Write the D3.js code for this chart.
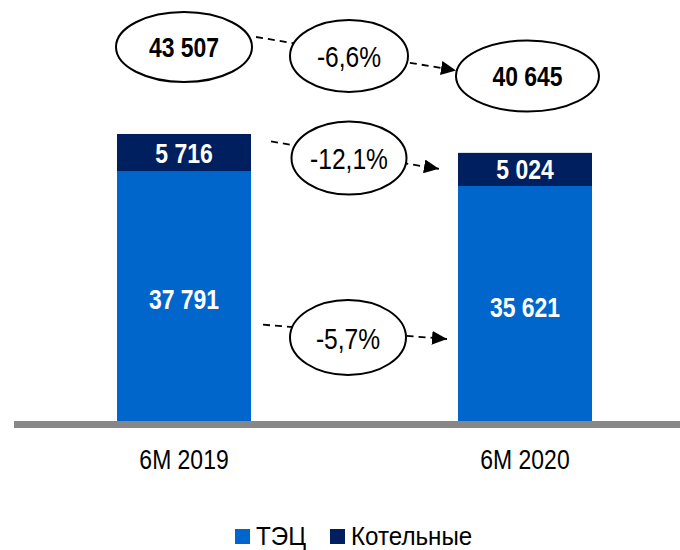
<!DOCTYPE html>
<html>
<head>
<meta charset="utf-8">
<script src="https://cdn.jsdelivr.net/npm/d3@7"></script>
<style>
  html, body { margin: 0; padding: 0; background: #fff; }
  svg { display: block; }
  text { font-family: "Liberation Sans Narrow", "Arial Narrow", "Liberation Sans", Arial, sans-serif; }
</style>
</head>
<body>
<svg id="chart" width="680" height="550"></svg>
<script>
// ---- data ----
const categories = ["6M 2019", "6M 2020"];
const seriesNames = ["ТЭЦ", "Котельные"];
const tecValues = [37791, 35621];
const kotValues = [5716, 5024];
const totalValues = [43507, 40645];
const changeLabels = ["-5,7%", "-12,1%", "-6,6%"]; // ТЭЦ, Котельные, total

const colors = { "ТЭЦ": "#0066CC", "Котельные": "#001F5F" };
const NARROW = 0.82; // horizontal condensing (Arial Narrow look)

const svg = d3.select("#chart");
const fmt = d3.formatLocale({ decimal: ",", thousands: " ", grouping: [3], currency: ["", ""] }).format(",d");

const x = d3.scaleBand().domain(categories).range([117, 592]).paddingInner(0.607).paddingOuter(0);
const y = d3.scaleLinear().domain([0, 50000]).range([421, 91.15]);

// helper: condensed text
function ntext(parent, px, py, str, opts) {
  const g = parent.append("g").attr("transform", `translate(${px},${py}) scale(${opts.sx || NARROW},1)`);
  return g.append("text").attr("x", 0).attr("y", 0)
    .attr("text-anchor", opts.anchor || "middle")
    .attr("font-size", opts.size)
    .attr("font-weight", opts.bold ? "bold" : "normal")
    .attr("fill", opts.fill || "#000")
    .text(str);
}

// arrowhead marker
svg.append("defs").append("marker")
  .attr("id", "arrow").attr("markerUnits", "userSpaceOnUse")
  .attr("viewBox", "0 -7 15 14").attr("refX", 15).attr("refY", 0)
  .attr("markerWidth", 15).attr("markerHeight", 14).attr("orient", "auto")
  .append("path").attr("d", "M0,-7L15,0L0,7Z").attr("fill", "#000");

// stacked bars
const stackData = categories.map((c, i) => ({ cat: c, "ТЭЦ": tecValues[i], "Котельные": kotValues[i] }));
const stack = d3.stack().keys(seriesNames)(stackData);

svg.append("g").selectAll("g").data(stack).join("g")
  .attr("fill", d => colors[d.key])
  .selectAll("rect").data(d => d).join("rect")
  .attr("x", d => x(d.data.cat))
  .attr("width", x.bandwidth())
  .attr("y", d => y(d[1]))
  .attr("height", d => y(d[0]) - y(d[1]));

// bar labels
const labelG = svg.append("g");
stack.forEach(s => {
  s.forEach(d => {
    ntext(labelG, x(d.data.cat) + x.bandwidth() / 2,
      (y(d[0]) + y(d[1])) / 2 + (s.key === "ТЭЦ" ? 13 : 10),
      fmt(d[1] - d[0]), { size: 28, bold: true, fill: "#fff" });
  });
});

// baseline
svg.append("line").attr("x1", 14).attr("x2", 680)
  .attr("y1", y(0) + 3.5).attr("y2", y(0) + 3.5)
  .attr("stroke", "#878787").attr("stroke-width", 7);

// category labels
const catG = svg.append("g");
categories.forEach(c => ntext(catG, x(c) + x.bandwidth() / 2, y(0) + 48, c, { size: 27, sx: 0.85 }));

// ---- annotations ----
const bw = x.bandwidth();
const x0 = x(categories[0]), x1 = x(categories[1]);
const annG = svg.append("g");

// dashed arrows (drawn first, ellipses cover the middle)
const arrows = [
  { x1: x0 + bw + 12, y1: y(tecValues[0]) + 153, x2: x1 - 11, y2: y(tecValues[1]) + 153 },
  { x1: x0 + bw + 20, y1: y(totalValues[0]) + 7.5, x2: x1 - 19, y2: y(totalValues[1]) + 16 },
  { x1: x0 + bw + 5, y1: 37, x2: 456, y2: 70.5 }
];
annG.selectAll("line").data(arrows).join("line")
  .attr("x1", d => d.x1).attr("y1", d => d.y1)
  .attr("x2", d => d.x2).attr("y2", d => d.y2)
  .attr("stroke", "#000").attr("stroke-width", 1.8)
  .attr("stroke-dasharray", "7,5")
  .attr("marker-end", "url(#arrow)");

// ellipses
const ellipses = [
  { cx: 348, cy: 337.5, rx: 58, ry: 37.5, text: changeLabels[0], bold: false },
  { cx: 349, cy: 158, rx: 57.5, ry: 36.5, text: changeLabels[1], bold: false },
  { cx: 349, cy: 56, rx: 59, ry: 36, text: changeLabels[2], bold: false },
  { cx: x0 + bw / 2, cy: 47, rx: 68, ry: 35, text: fmt(totalValues[0]), bold: true },
  { cx: x1 + bw / 2 + 2.5, cy: 76, rx: 71.5, ry: 35.5, text: fmt(totalValues[1]), bold: true }
];
ellipses.forEach(d => {
  annG.append("ellipse")
    .attr("cx", d.cx).attr("cy", d.cy)
    .attr("rx", d.rx).attr("ry", d.ry)
    .attr("fill", "#fff").attr("stroke", "#000").attr("stroke-width", 2);
  ntext(annG, d.cx, d.cy + (d.bold ? 10 : 11), d.text, { size: d.bold ? 28 : 30, bold: d.bold });
});

// legend
const legend = svg.append("g").attr("transform", "translate(235,529)");
const legendX = [0, 95];
seriesNames.forEach((name, i) => {
  const g = legend.append("g").attr("transform", `translate(${legendX[i]},0)`);
  g.append("rect").attr("width", 15).attr("height", 15).attr("fill", colors[name]);
  ntext(g, 21, 16, name, { size: 26, anchor: "start", sx: 0.93 });
});
</script>
</body>
</html>
